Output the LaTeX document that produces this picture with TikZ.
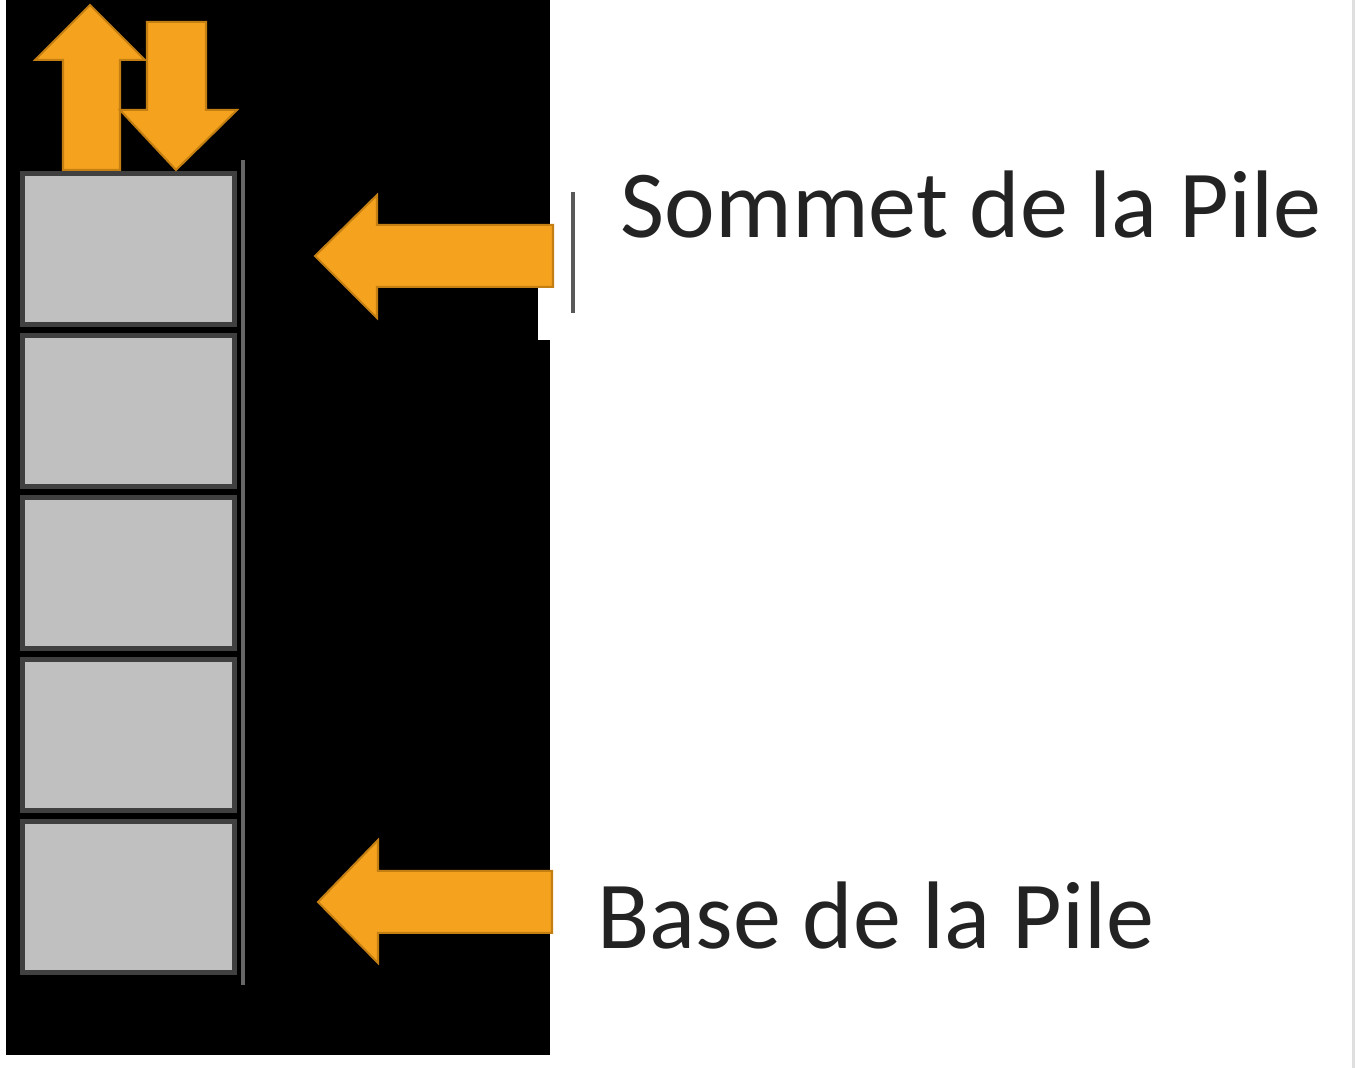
\documentclass[tikz,border=0pt]{standalone}
\usepackage{fontspec}
\setmainfont{Carlito}
\usepackage{xcolor}
\definecolor{pileorange}{RGB}{245,163,30}
\definecolor{pileedge}{RGB}{196,127,18}
\definecolor{cellgray}{RGB}{192,192,192}
\definecolor{celledge}{RGB}{64,64,64}
\definecolor{labelgray}{RGB}{35,35,35}

\begin{document}
\begin{tikzpicture}[x=0.01cm,y=-0.01cm]
      \tikzstyle{cell}=[rectangle,draw=celledge,fill=cellgray,line width=0.05cm,minimum width=2.12cm,minimum height=1.51cm,inner sep=0pt]
      \tikzstyle{bigarrow}=[fill=pileorange,draw=pileedge,line width=0.02cm,line join=miter]
      \tikzstyle{label}=[font=\fontsize{27.3}{32}\selectfont,text=labelgray,inner sep=0pt]
      \useasboundingbox (0,0) rectangle (1356,1068);
      \fill[black] (6,0) rectangle (550,1055);
      \fill[white] (538,288) rectangle (551,340);
      \draw[gray!25,line width=0.03cm] (1353,0) -- (1353,1068);
      % the stack
      \foreach \i/\y in {1/249,2/411,3/573,4/735,5/897}
        \node[cell] (b\i) at (128.5,\y) {};
      \draw[gray!80!black,line width=0.04cm] (243,160) -- (243,985);
      % push / pop
      \draw[bigarrow] (63,170) -- (63,60) -- (35,60) -- (90,5) -- (145,60) -- (120,60) -- (120,170) -- cycle;
      \draw[bigarrow] (147,22) -- (206,22) -- (206,110) -- (237,110) -- (176,170) -- (120,110) -- (147,110) -- cycle;
      % pointers
      \draw[bigarrow] (553,225) -- (377,225) -- (377,195) -- (315,256) -- (377,318) -- (377,287) -- (553,287) -- cycle;
      \draw[bigarrow] (552,871) -- (378,871) -- (378,840) -- (318,902) -- (378,963) -- (378,933) -- (552,933) -- cycle;
      \draw[gray!70!black,line width=0.04cm] (573,192) -- (573,313);
      \node[label,anchor=base west] (sommet) at (620,238) {Sommet de la Pile};
      \node[label,anchor=base west] (base) at (597,949) {Base de la Pile};
\end{tikzpicture}
\end{document}
